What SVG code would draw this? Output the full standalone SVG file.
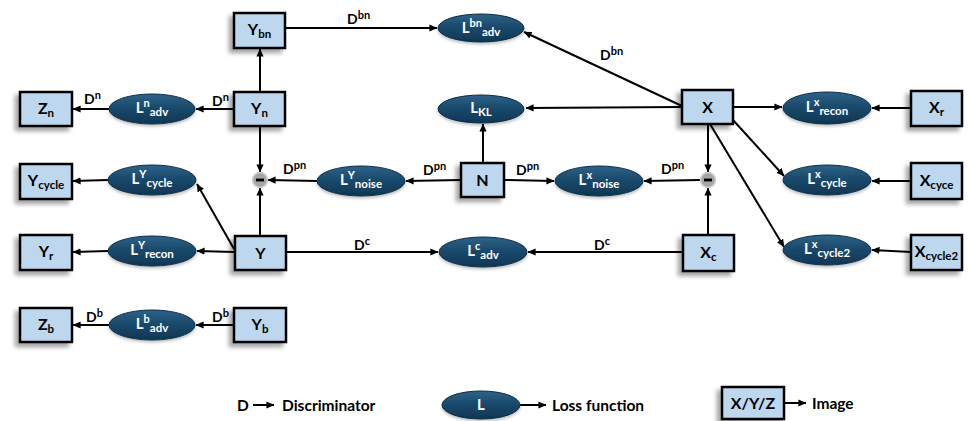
<svg xmlns="http://www.w3.org/2000/svg" width="969" height="421" viewBox="0 0 969 421">
<defs>
<linearGradient id="eg" x1="0" y1="0" x2="0" y2="1">
<stop offset="0" stop-color="#2e6388"/>
<stop offset="0.45" stop-color="#1a4a6c"/>
<stop offset="1" stop-color="#0f3654"/>
</linearGradient>
<filter id="sh" x="-30%" y="-30%" width="160%" height="170%">
<feGaussianBlur in="SourceAlpha" stdDeviation="2.2"/>
<feOffset dx="-4" dy="4" result="b"/>
<feFlood flood-color="#000" flood-opacity="0.35"/>
<feComposite in2="b" operator="in"/>
<feMerge><feMergeNode/><feMergeNode in="SourceGraphic"/></feMerge>
</filter>
<filter id="esh" x="-20%" y="-30%" width="140%" height="170%">
<feGaussianBlur in="SourceAlpha" stdDeviation="1.5"/>
<feOffset dx="0" dy="2" result="b"/>
<feFlood flood-color="#000" flood-opacity="0.25"/>
<feComposite in2="b" operator="in"/>
<feMerge><feMergeNode/><feMergeNode in="SourceGraphic"/></feMerge>
</filter>
<marker id="ah" viewBox="0 0 10 10" refX="9.5" refY="5" markerWidth="8" markerHeight="8" markerUnits="userSpaceOnUse" orient="auto">
<path d="M0,0.5 L10,5 L0,9.5 z" fill="#000"/>
</marker>
</defs>
<style>
.box{fill:#bdd7ee;stroke:#000;stroke-width:2.5;filter:url(#sh)}
.ell{fill:url(#eg);stroke:#0c2c45;stroke-width:1;filter:url(#esh)}
.bt{font-family:Lato,"Open Sans","Liberation Sans",sans-serif;font-weight:bold;font-size:16px;fill:#000;text-anchor:middle}
.et{font-family:Lato,"Open Sans","Liberation Sans",sans-serif;font-weight:bold;font-size:15px;fill:#fff;text-anchor:middle}
.sb{font-size:11.5px}
.sp{font-size:11px}
.lb{font-family:Lato,"Open Sans","Liberation Sans",sans-serif;font-weight:bold;font-size:14px;fill:#000}
.lg{font-family:Lato,"Open Sans","Liberation Sans",sans-serif;font-weight:bold;font-size:15.5px;fill:#000}
.cn{stroke:#000;stroke-width:2;fill:none;marker-end:url(#ah)}
.mc{fill:#a6a6a6;stroke:#d0d0d0;stroke-width:1.5}
</style>

<g id="connectors">
<path class="cn" d="M285,28 L437,28"/>
<path class="cn" d="M682,106 L524,32"/>
<path class="cn" d="M682,107 L526,108"/>
<path class="cn" d="M483,163 L483,124"/>
<path class="cn" d="M733,107 L782,107"/>
<path class="cn" d="M911,108 L872,108"/>
<path class="cn" d="M708,124 L708,172"/>
<path class="cn" d="M733,120 L784,176"/>
<path class="cn" d="M710,124 L784,247"/>
<path class="cn" d="M700,180 L644,181"/>
<path class="cn" d="M708,235 L708,188"/>
<path class="cn" d="M683,252 L528,252"/>
<path class="cn" d="M286,252 L438,252"/>
<path class="cn" d="M461,180 L406,181"/>
<path class="cn" d="M504,180 L554,181"/>
<path class="cn" d="M317,181 L268,180"/>
<path class="cn" d="M260,126 L260,172"/>
<path class="cn" d="M260,236 L260,188"/>
<path class="cn" d="M260,92 L260,49"/>
<path class="cn" d="M234,109 L196,109"/>
<path class="cn" d="M109,109 L73,109"/>
<path class="cn" d="M234,249 L197,184"/>
<path class="cn" d="M235,252 L197,251"/>
<path class="cn" d="M108,251 L73,252"/>
<path class="cn" d="M108,180 L73,181"/>
<path class="cn" d="M911,181 L872,181"/>
<path class="cn" d="M911,252 L872,250"/>
<path class="cn" d="M234,325 L196,325"/>
<path class="cn" d="M109,325 L73,325"/>
<path class="cn" d="M253,405 L274,405"/>
<path class="cn" d="M520,405 L546,405"/>
<path class="cn" d="M784,403 L806,403"/>
<text class="lb" x="347" y="24">D<tspan class="sp" dy="-5">bn</tspan></text>
<text class="lb" x="600" y="60">D<tspan class="sp" dy="-5">bn</tspan></text>
<text class="lb" x="661" y="174">D<tspan class="sp" dy="-5">pn</tspan></text>
<text class="lb" x="423" y="175">D<tspan class="sp" dy="-5">pn</tspan></text>
<text class="lb" x="516" y="175">D<tspan class="sp" dy="-5">pn</tspan></text>
<text class="lb" x="283" y="174">D<tspan class="sp" dy="-5">pn</tspan></text>
<text class="lb" x="594" y="250">D<tspan class="sp" dy="-5">c</tspan></text>
<text class="lb" x="354" y="250">D<tspan class="sp" dy="-5">c</tspan></text>
<text class="lb" x="212" y="106">D<tspan class="sp" dy="-5">n</tspan></text>
<text class="lb" x="84" y="104">D<tspan class="sp" dy="-5">n</tspan></text>
<text class="lb" x="212" y="322">D<tspan class="sp" dy="-5">b</tspan></text>
<text class="lb" x="86" y="322">D<tspan class="sp" dy="-5">b</tspan></text>
</g>

<g id="minus-y"><circle class="mc" cx="260" cy="180" r="7.5"/><rect x="256" y="178.6" width="8" height="2.8" fill="#000"/></g>
<g id="minus-x"><circle class="mc" cx="708" cy="180" r="7.5"/><rect x="704" y="178.6" width="8" height="2.8" fill="#000"/></g>

<g id="Ybn"><rect class="box" x="234" y="13" width="51" height="35"/><text class="bt" x="259.5" y="35">Y<tspan class="sb" dy="3">bn</tspan></text></g>
<g id="Yn"><rect class="box" x="234" y="92" width="51" height="34"/><text class="bt" x="259.5" y="114">Y<tspan class="sb" dy="3">n</tspan></text></g>
<g id="Zn"><rect class="box" x="20" y="92" width="52" height="34"/><text class="bt" x="46" y="114">Z<tspan class="sb" dy="3">n</tspan></text></g>
<g id="Ycycle"><rect class="box" x="20" y="164" width="52" height="35"/><text class="bt" x="46" y="186">Y<tspan class="sb" dy="3">cycle</tspan></text></g>
<g id="Yr"><rect class="box" x="20" y="235" width="52" height="35"/><text class="bt" x="46" y="257">Y<tspan class="sb" dy="3">r</tspan></text></g>
<g id="Y"><rect class="box" x="235" y="236" width="51" height="34"/><text class="bt" x="260.5" y="259">Y</text></g>
<g id="Zb"><rect class="box" x="20" y="308" width="52" height="34"/><text class="bt" x="46" y="330">Z<tspan class="sb" dy="3">b</tspan></text></g>
<g id="Yb"><rect class="box" x="234" y="308" width="52" height="34"/><text class="bt" x="260" y="330">Y<tspan class="sb" dy="3">b</tspan></text></g>
<g id="N"><rect class="box" x="461" y="163" width="43" height="34"/><text class="bt" x="482.5" y="186">N</text></g>
<g id="X"><rect class="box" x="682" y="90" width="51" height="34"/><text class="bt" x="707.5" y="113">X</text></g>
<g id="Xr"><rect class="box" x="911" y="91" width="51" height="35"/><text class="bt" x="936.5" y="113">X<tspan class="sb" dy="3">r</tspan></text></g>
<g id="Xcyce"><rect class="box" x="911" y="163" width="51" height="36"/><text class="bt" x="936.5" y="186">X<tspan class="sb" dy="3">cyce</tspan></text></g>
<g id="Xc"><rect class="box" x="683" y="235" width="51" height="36"/><text class="bt" x="708.5" y="258">X<tspan class="sb" dy="3">c</tspan></text></g>
<g id="Xcycle2"><rect class="box" x="911" y="235" width="51" height="35"/><text class="bt" x="936.5" y="257">X<tspan class="sb" dy="3">cycle2</tspan></text></g>

<g id="Lbn_adv"><ellipse class="ell" cx="481" cy="28" rx="43" ry="14"/><text class="et" x="481" y="33">L<tspan class="sp" dy="-6">bn</tspan><tspan class="sb" dy="9">adv</tspan></text></g>
<g id="LKL"><ellipse class="ell" cx="481" cy="109" rx="43" ry="14"/><text class="et" x="481" y="113">L<tspan class="sb" dy="3">KL</tspan></text></g>
<g id="Ln_adv"><ellipse class="ell" cx="152" cy="109" rx="43" ry="15"/><text class="et" x="152" y="113">L<tspan class="sp" dy="-6">n</tspan><tspan class="sb" dy="9">adv</tspan></text></g>
<g id="LY_cycle"><ellipse class="ell" cx="152" cy="180" rx="44" ry="15"/><text class="et" x="152" y="184">L<tspan class="sp" dy="-6">Y</tspan><tspan class="sb" dy="9">cycle</tspan></text></g>
<g id="LY_recon"><ellipse class="ell" cx="152" cy="251" rx="44" ry="15"/><text class="et" x="152" y="255">L<tspan class="sp" dy="-6">Y</tspan><tspan class="sb" dy="9">recon</tspan></text></g>
<g id="Lb_adv"><ellipse class="ell" cx="152" cy="325" rx="43" ry="15"/><text class="et" x="152" y="329">L<tspan class="sp" dy="-6">b</tspan><tspan class="sb" dy="9">adv</tspan></text></g>
<g id="LY_noise"><ellipse class="ell" cx="361" cy="181" rx="44" ry="15"/><text class="et" x="361" y="185">L<tspan class="sp" dy="-6">Y</tspan><tspan class="sb" dy="9">noise</tspan></text></g>
<g id="Lx_noise"><ellipse class="ell" cx="599" cy="181" rx="44" ry="15"/><text class="et" x="599" y="185">L<tspan class="sp" dy="-6">x</tspan><tspan class="sb" dy="9">noise</tspan></text></g>
<g id="Lc_adv"><ellipse class="ell" cx="483" cy="252" rx="44" ry="15"/><text class="et" x="483" y="256">L<tspan class="sp" dy="-6">c</tspan><tspan class="sb" dy="9">adv</tspan></text></g>
<g id="Lx_recon"><ellipse class="ell" cx="827" cy="108" rx="44" ry="16"/><text class="et" x="827" y="112">L<tspan class="sp" dy="-6">x</tspan><tspan class="sb" dy="9">recon</tspan></text></g>
<g id="Lx_cycle"><ellipse class="ell" cx="827" cy="180" rx="44" ry="15"/><text class="et" x="827" y="184">L<tspan class="sp" dy="-6">x</tspan><tspan class="sb" dy="9">cycle</tspan></text></g>
<g id="Lx_cycle2"><ellipse class="ell" cx="827" cy="250" rx="44" ry="15"/><text class="et" x="827" y="254">L<tspan class="sp" dy="-6">x</tspan><tspan class="sb" dy="9">cycle2</tspan></text></g>

<g id="legend">
<text class="lg" x="237" y="411">D</text>
<text class="lg" x="282" y="411">Discriminator</text>
<ellipse class="ell" cx="481" cy="405" rx="39" ry="14"/>
<text class="et" x="481" y="410">L</text>
<text class="lg" x="552" y="411">Loss function</text>
<rect class="box" x="722" y="387" width="62" height="32"/>
<text class="bt" x="753" y="409">X/Y/Z</text>
<text class="lg" x="812" y="409">Image</text>
</g>
</svg>
